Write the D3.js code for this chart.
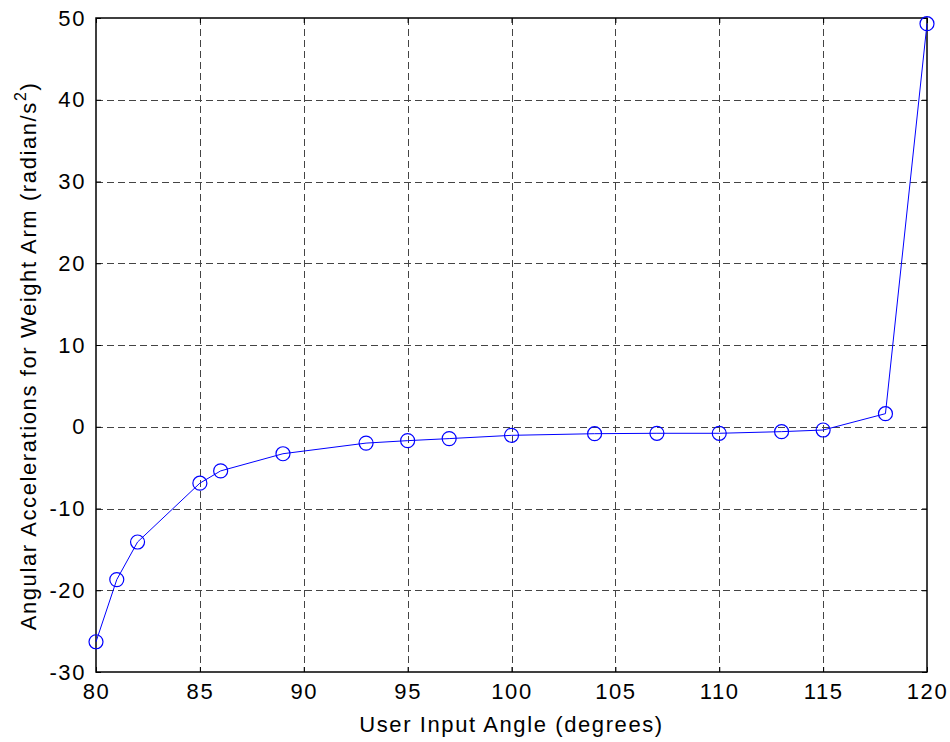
<!DOCTYPE html>
<html>
<head>
<meta charset="utf-8">
<script src="https://cdn.jsdelivr.net/npm/d3@7"></script>
<style>
  html, body { margin: 0; padding: 0; background: #fff; }
  svg { display: block; font-family: "Liberation Sans", Arial, sans-serif; }
  text { letter-spacing: 1.6px; }
</style>
</head>
<body>
<svg id="chart" width="950" height="742"></svg>
<script>
// Input angle (degrees) and the resulting angular acceleration of the weight arm
const angles = [80, 81, 82, 85, 86, 89, 93, 95, 97, 100, 104, 107, 110, 113, 115, 118, 120];
const accelerations = [-26.3, -18.7, -14.1, -6.9, -5.4, -3.3, -2.0, -1.7, -1.45, -1.05, -0.85, -0.8, -0.8, -0.6, -0.4, 1.6, 49.3];
const xTicks = [80, 85, 90, 95, 100, 105, 110, 115, 120];
const yTicks = [-30, -20, -10, 0, 10, 20, 30, 40, 50];

const svg = d3.select("#chart");
const plotLeft = 96, plotRight = 927, plotTop = 18, plotBottom = 672;
const fontSize = 22;

const x = d3.scaleLinear().domain([80, 120]).range([plotLeft, plotRight]);
const y = d3.scaleLinear().domain([-30, 50]).range([plotBottom, plotTop]);

// Plain hyphen for negative numbers
const fmt = d => String(d);

// Dashed grid
const grid = svg.append("g")
  .attr("stroke", "#444")
  .attr("stroke-width", 1)
  .attr("stroke-dasharray", "7,4");
grid.selectAll("line.v").data(xTicks.slice(1, -1)).join("line")
  .attr("x1", d => Math.round(x(d)) + 0.5).attr("x2", d => Math.round(x(d)) + 0.5)
  .attr("y1", plotTop).attr("y2", plotBottom);
grid.selectAll("line.h").data(yTicks.slice(1, -1)).join("line")
  .attr("y1", d => Math.round(y(d)) + 0.5).attr("y2", d => Math.round(y(d)) + 0.5)
  .attr("x1", plotLeft).attr("x2", plotRight);

// Axes with inward ticks on all four sides
const tickLen = 5;
const axisStyle = g => {
  g.select(".domain").remove();
  g.selectAll(".tick line").attr("stroke", "#000");
  g.selectAll(".tick text").attr("font-size", fontSize).attr("fill", "#000")
    .attr("font-family", "Liberation Sans, Arial, sans-serif");
};
svg.append("g").attr("transform", `translate(0,${plotBottom})`)
  .call(d3.axisBottom(x).tickValues(xTicks).tickFormat(fmt).tickSizeInner(-tickLen).tickPadding(11).tickSizeOuter(0))
  .call(axisStyle);
svg.append("g").attr("transform", `translate(0,${plotTop})`)
  .call(d3.axisTop(x).tickValues(xTicks).tickSizeInner(-tickLen).tickFormat("").tickSizeOuter(0))
  .call(axisStyle);
svg.append("g").attr("transform", `translate(${plotLeft},0)`)
  .call(d3.axisLeft(y).tickValues(yTicks).tickFormat(fmt).tickSizeInner(-tickLen).tickPadding(10).tickSizeOuter(0))
  .call(axisStyle);
svg.append("g").attr("transform", `translate(${plotRight},0)`)
  .call(d3.axisRight(y).tickValues(yTicks).tickSizeInner(-tickLen).tickFormat("").tickSizeOuter(0))
  .call(axisStyle);

// Axes box
svg.append("rect")
  .attr("x", plotLeft).attr("y", plotTop)
  .attr("width", plotRight - plotLeft).attr("height", plotBottom - plotTop)
  .attr("fill", "none").attr("stroke", "#000").attr("stroke-width", 1.5);

// Data line and circle markers
const pts = angles.map((a, i) => [a, accelerations[i]]);
svg.append("path")
  .datum(pts)
  .attr("fill", "none").attr("stroke", "#0000ff").attr("stroke-width", 1)
  .attr("d", d3.line().x(d => x(d[0])).y(d => y(d[1])));
svg.append("g").selectAll("circle").data(pts).join("circle")
  .attr("cx", d => x(d[0])).attr("cy", d => y(d[1])).attr("r", 7)
  .attr("fill", "none").attr("stroke", "#0000ff").attr("stroke-width", 1.2);

// Axis labels
svg.append("text")
  .attr("x", (plotLeft + plotRight) / 2).attr("y", 732)
  .attr("text-anchor", "middle").attr("font-size", fontSize)
  .text("User Input Angle (degrees)");
const yl = svg.append("text")
  .attr("transform", `translate(36,356) rotate(-90)`)
  .attr("text-anchor", "middle").attr("font-size", fontSize);
yl.append("tspan").text("Angular Accelerations for Weight Arm (radian/s");
yl.append("tspan").attr("dy", -10).attr("font-size", 16).text("2");
yl.append("tspan").attr("dy", 10).text(")");
</script>
</body>
</html>
